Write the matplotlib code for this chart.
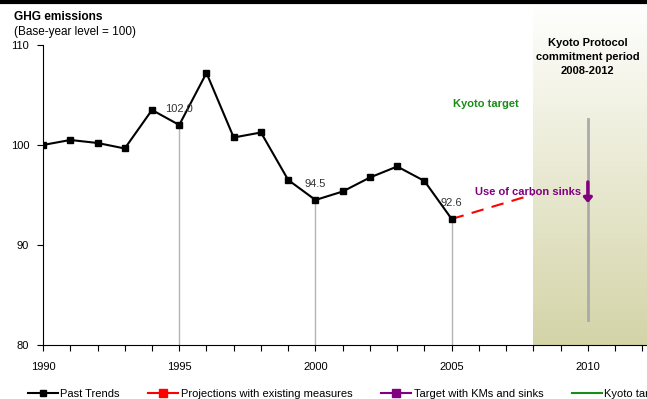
import numpy as np
import matplotlib.pyplot as plt
from matplotlib.lines import Line2D

plt.rcParams["font.family"] = ["Liberation Sans", "DejaVu Sans"]
plt.rcParams["font.size"] = 8

# Data
years = [1990, 1991, 1992, 1993, 1994, 1995, 1996, 1997, 1998, 1999,
         2000, 2001, 2002, 2003, 2004, 2005]
past = [100.0, 100.5, 100.2, 99.65, 103.5, 102.0, 107.2, 100.75, 101.25, 96.5,
        94.5, 95.35, 96.75, 97.85, 96.4, 92.6]
proj_years = [2005, 2010]
proj_values = [92.6, 96.7]
labelled_years = [1995, 2000, 2005]
sink_from, sink_to = 96.3, 94.2
kyoto_range = (82.5, 102.6)
commit_start, commit_end = 2008, 2013

fig = plt.figure(figsize=(6.47, 3.99), dpi=100)
ax = fig.add_axes([0.0665, 0.1353, 0.9335, 0.752])

# commitment period shading (gradient white -> khaki)
grad = np.linspace(0, 1, 256).reshape(-1, 1, 1)
top_col = np.array([1.0, 1.0, 1.0])
bot_col = np.array([212, 212, 168]) / 255
img = top_col * (1 - grad) + bot_col * grad
ax.imshow(img, extent=[commit_start, commit_end, 80, 114.3], aspect="auto",
          origin="upper", zorder=3, clip_on=False)

# drop lines
past_map = dict(zip(years, past))
for yr in labelled_years:
    ax.plot([yr, yr], [80, past_map[yr]], color="#b4b4b4", lw=1.0, zorder=2)

ax.plot(proj_years, proj_values, color="#ff0000", lw=1.5, ls=(0, (6, 4)), zorder=2)
ax.plot(years, past, color="black", lw=1.5, marker="s", ms=5, zorder=5)

for yr in labelled_years:
    ax.text(yr, past_map[yr] + 1.1, f"{past_map[yr]:.1f}", ha="center", va="bottom",
            fontsize=8, color="#333333", zorder=6)

ax.plot([2010, 2010], kyoto_range, color="#aaaaaa", lw=2, zorder=4)
ax.annotate("", xy=(2010, sink_to), xytext=(2010, sink_from),
            arrowprops=dict(arrowstyle="-|>,head_length=0.35,head_width=0.3",
                            color="#800080", lw=2.5, shrinkA=0, shrinkB=0), zorder=6)

ax.text(2006.24, 104.1, "Kyoto target", color="#1a8c1a", fontweight="bold",
        ha="center", va="center", zorder=6)
ax.text(2007.8, 95.3, "Use of carbon sinks", color="#800080", fontweight="bold",
        ha="center", va="center", zorder=6)
ax.text(2010, 108.8, "Kyoto Protocol\ncommitment period\n2008-2012", fontweight="bold",
        ha="center", va="center", linespacing=1.45, zorder=6)

ax.set_xlim(1990, 2012.17)
ax.set_ylim(80, 110)
ax.set_xticks([1990, 1995, 2000, 2005, 2010])
ax.set_xticks(np.arange(1990, 2013), minor=True)
ax.set_yticks([80, 90, 100, 110])
ax.tick_params(axis="both", which="both", direction="out", length=4, width=0.8,
               labelsize=8, pad=6)
ax.tick_params(axis="x", pad=8)
for s in ["top", "right"]:
    ax.spines[s].set_visible(False)
ax.spines["bottom"].set_zorder(7)

fig.text(0.022, 0.958, "GHG emissions", fontweight="bold", fontsize=8.6, va="center")
fig.text(0.022, 0.92, "(Base-year level = 100)", fontsize=8.5, va="center")
fig.add_artist(Line2D([0, 1], [0.996, 0.996], color="black", lw=3))

handles = [
    Line2D([], [], color="black", marker="s", ms=4, lw=1.5),
    Line2D([], [], color="#ff0000", marker="s", ms=6, lw=1.5),
    Line2D([], [], color="#800080", marker="s", ms=6, lw=1.5),
    Line2D([], [], color="#1a8c1a", lw=1.5),
]
labels = ["Past Trends", "Projections with existing measures",
          "Target with KMs and sinks", "Kyoto target"]
fig.legend(handles, labels, loc="center left", bbox_to_anchor=(0.034, 0.012),
           ncol=4, frameon=False, borderpad=0, handlelength=2.7,
           handletextpad=0.25, columnspacing=2.55, fontsize=8)

fig.savefig("out.png", dpi=100)
